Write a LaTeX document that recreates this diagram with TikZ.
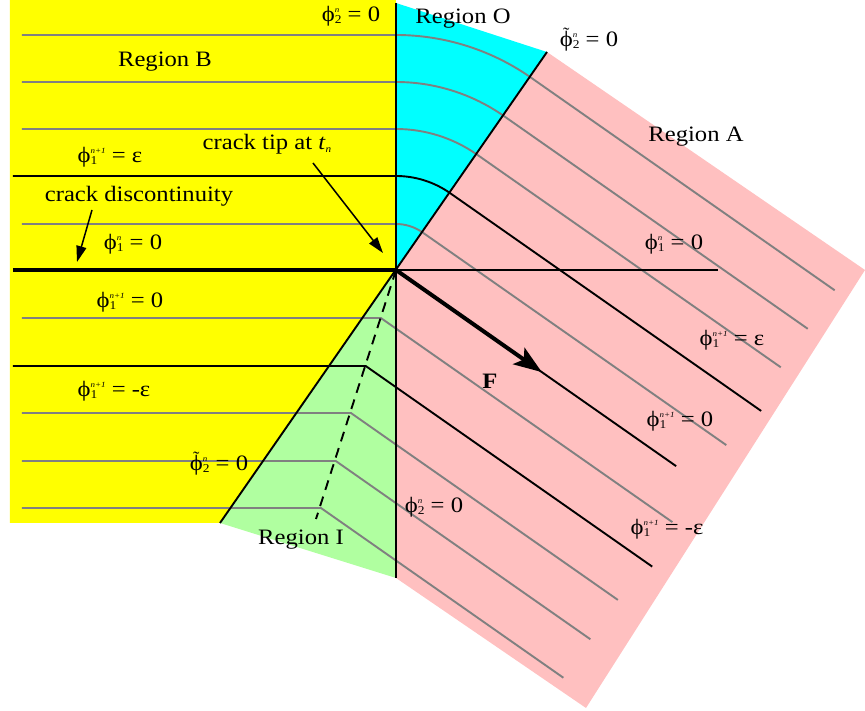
\documentclass[tikz,border=0pt]{standalone}
\usepackage{fontspec}
\setmainfont{Liberation Serif}[FakeStretch=1.12]
\usetikzlibrary{arrows.meta,calc}
\definecolor{ylw}{RGB}{255,255,0}
\definecolor{cyn}{RGB}{0,255,255}
\definecolor{pnk}{RGB}{255,192,192}
\definecolor{grn}{RGB}{176,255,160}
\definecolor{lvl}{RGB}{128,128,128}
\newcommand\ssc[2]{%
  \setbox0=\hbox{\raisebox{9pt}{\fontsize{8}{8}\selectfont\itshape #2}}%
  \setbox2=\hbox{\raisebox{-2.5pt}{\fontsize{12}{12}\selectfont #1}}%
  \ifdim\wd0>\wd2 \rlap{\copy2}\copy0 \else \rlap{\copy0}\copy2 \fi}
\newcommand\tphi{\ooalign{ϕ\cr\hidewidth\raisebox{6.5pt}{\fontsize{17}{17}\selectfont\char"02DC}\hidewidth\cr}}
\newcommand\pp[3]{ϕ\ssc{#1}{#2} = #3}
\newcommand\tp[3]{\tphi\ssc{#1}{#2} = #3}
\begin{document}
\begin{tikzpicture}[x=1pt,y=1pt,
  lbl/.style={inner sep=0pt, font=\fontsize{22}{26}\selectfont},
  gline/.style={draw=lvl, line width=1.9pt},
  bline/.style={draw=black, line width=1.9pt},
  ann/.style={draw=black, line width=1.5pt, -{Triangle[length=16pt,width=10pt]}}]
\useasboundingbox (-396,270) rectangle (469,-441);
\coordinate (tip) at (0,0);
\coordinate (btop) at (151,218);
\coordinate (bbot) at (-176,-253);
\coordinate (vtop) at (0,267);
\coordinate (vbot) at (0,-308);
% regions
\fill[ylw] (-386,270) -- (0,270) -- (tip) -- (bbot) -- (-386,-253) -- cycle;
\fill[cyn] (vtop) -- (btop) -- (tip) -- cycle;
\fill[pnk] (btop) -- (469,0) -- (190,-438) -- (vbot) -- (tip) -- cycle;
\fill[grn] (tip) -- (bbot) -- (vbot) -- cycle;
% level lines above crack
\foreach \d in {46,141,188,235}
  \draw[gline] (-374,\d) -- (0,\d) arc[start angle=90,end angle=55,radius=\d] -- ($(-35:371)+(55:\d)$);
\draw[bline] (-383,94) -- (0,94) arc[start angle=90,end angle=55,radius=94] -- ($(-35:380)+(55:94)$);
% level lines below crack
\foreach \d in {48,143,191,238}
  \draw[gline] (-374,-\d) -- ({-0.3153*\d},-\d) -- ($(-35:371)+(235:\d)$);
\draw[bline] (-383,-96) -- (-30.3,-96) -- ($(-35:380)+(235:96)$);
% crack and boundaries
\draw[bline] (tip) -- (-35:342);
\draw[bline] (tip) -- (322,0);
\draw[line width=3.2pt] (-383,0) -- (tip);
\draw[bline] (vtop) -- (vbot);
\draw[bline] (btop) -- (bbot);
\draw[bline, dash pattern=on 10pt off 7pt] (tip) -- (-80,-249);
\draw[line width=4pt, -{Stealth[length=28pt,width=20pt,inset=6pt]}] (tip) -- (-35:178);
% labels
\node[lbl] (l2top) at (-45,254) {\pp{2}{n}{0}};
\node[lbl] (rO) at (67,251) {Region O};
\node[lbl] (t2top) at (193,230) {\tp{2}{n}{0}};
\node[lbl] (rB) at (-231,208) {Region B};
\node[lbl] (rA) at (300,133) {Region A};
\node[lbl] (l1eps) at (-286,113) {\pp{1}{n+1}{ε}};
\node[lbl] (ctip) at (-129,126) {crack tip at \textit{t}\raisebox{-3pt}{\fontsize{10}{10}\selectfont\itshape n}};
\node[lbl] (cdisc) at (-257,74) {crack discontinuity};
\node[lbl] (l1n) at (-263,26) {\pp{1}{n}{0}};
\node[lbl] (l1z) at (-266,-32) {\pp{1}{n+1}{0}};
\node[lbl] (l1meps) at (-282,-121) {\pp{1}{n+1}{-ε}};
\node[lbl] (t2low) at (-177,-194) {\tp{2}{n}{0}};
\node[lbl] (rI) at (-95,-270) {Region I};
\node[lbl] (l2low) at (38,-237) {\pp{2}{n}{0}};
\node[lbl] (r1meps) at (271,-259) {\pp{1}{n+1}{-ε}};
\node[lbl] (r1n) at (278,26) {\pp{1}{n}{0}};
\node[lbl] (r1eps) at (336,-70) {\pp{1}{n+1}{ε}};
\node[lbl] (r1z) at (284,-151) {\pp{1}{n+1}{0}};
\node[lbl] (F) at (94,-111) {\textbf{F}};
% annotation arrows
\coordinate (cdfrom) at (-304,60);
\coordinate (cdto) at (-319,8);
\coordinate (ctfrom) at (-83,107);
\coordinate (ctto) at (-13,17);
\draw[ann] (cdfrom) -- (cdto);
\draw[ann] (ctfrom) -- (ctto);
\end{tikzpicture}
\end{document}
